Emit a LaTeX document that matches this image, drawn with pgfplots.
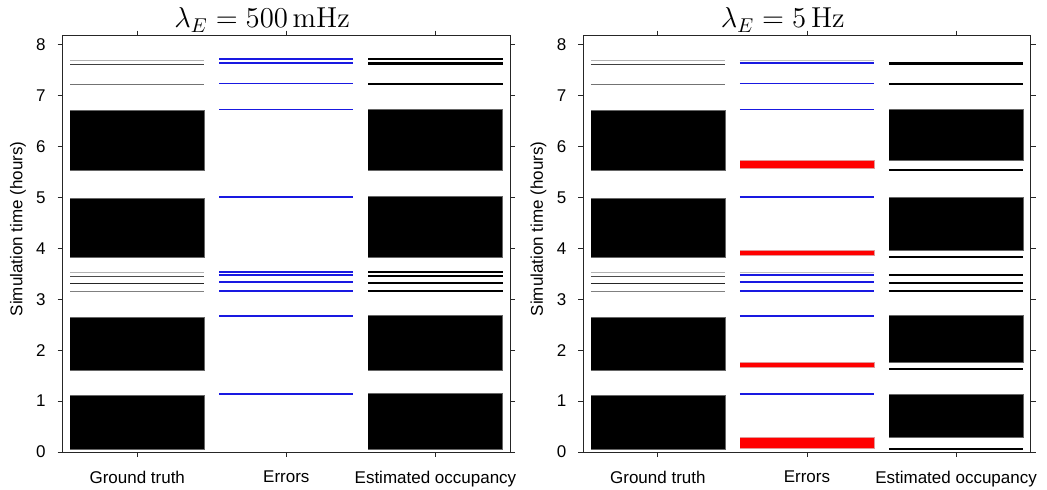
\documentclass[border=0pt]{standalone}
\usepackage{pgfplots}
\pgfplotsset{compat=1.18}
\usepackage[no-math]{fontspec}
\setmainfont{Liberation Sans}

% column x-ranges: A = Ground truth, B = Errors, C = Estimated occupancy
\newcommand{\rA}[3]{\addplot[#3] coordinates {(-0.45,#1) (0.45,#1) (0.45,#2) (-0.45,#2)};}
\newcommand{\rB}[3]{\addplot[#3] coordinates {(0.55,#1) (1.45,#1) (1.45,#2) (0.55,#2)};}
\newcommand{\rC}[3]{\addplot[#3] coordinates {(1.55,#1) (2.45,#1) (2.45,#2) (1.55,#2)};}
\newcommand{\lA}[2]{\addplot[#2] coordinates {(-0.45,#1) (0.45,#1)};}
\newcommand{\lB}[2]{\addplot[#2] coordinates {(0.55,#1) (1.45,#1)};}
\newcommand{\lC}[2]{\addplot[#2] coordinates {(1.55,#1) (2.45,#1)};}

\definecolor{errblue}{RGB}{25,25,225}

\pgfplotsset{
  gtl/.style={line width=0.5pt},
  blk/.style={fill=black, draw=black!60, line width=0.3pt},
  bl/.style={draw=errblue, line width=0.85pt},
  bll/.style={draw=black!25, line width=0.6pt},
  redblk/.style={fill=red, draw=red!70!black!40, line width=0.3pt},
  eth/.style={draw=black, line width=0.7pt},
  em/.style={draw=black, line width=1.0pt},
  ek/.style={draw=black, line width=1.5pt},
  occ/.style={
    scale only axis, width=223.65pt, height=208.15pt,
    xmin=-0.5, xmax=2.5, ymin=0, ymax=8.18,
    xtick={0,1,2}, xticklabels={Ground truth, Errors, Estimated occupancy},
    ytick={0,1,2,3,4,5,6,7,8},
    tick align=outside, tick pos=both,
    xticklabel pos=lower, yticklabel pos=left,
    major tick length=2.5pt,
    /pgf/number format/assume math mode=true,
    tick label style={font=\fontsize{8.5}{10}\selectfont},
    xticklabel style={yshift=-3.5pt},
    yticklabel style={xshift=-2.5pt},
    ylabel={Simulation time (hours)},
    ylabel style={font=\fontsize{8.5}{10}\selectfont, at={(axis description cs:-0.1,0.536)}, anchor=center},
    axis line style={black!85},
    every tick/.style={black!85, line width=0.4pt},
    title style={at={(axis description cs:0.446,1)}, anchor=base, yshift=-2pt, font=\fontsize{14}{17}\selectfont},
  }
}

\newcommand{\GTdata}{%
  \lA{7.70}{gtl, black!30}
  \lA{7.61}{gtl, black!75}
  \lA{7.22}{gtl, black!55}
  \lA{3.52}{gtl, black!30}
  \lA{3.45}{gtl, black!70}
  \lA{3.32}{gtl, black!85}
  \lA{3.15}{gtl, black!50}
  \rA{5.54}{6.71}{blk}
  \rA{3.82}{4.99}{blk}
  \rA{1.61}{2.65}{blk}
  \rA{0.05}{1.12}{blk}
}

\begin{document}
\begin{tikzpicture}
\begin{axis}[occ, at={(0pt,0pt)}, anchor=south west, title={$\lambda_E = 500\,\mathrm{mHz}$}]
  \GTdata
  % Errors
  \lB{7.72}{bl}
  \lB{7.64}{bl}
  \lB{7.24}{bl}
  \lB{6.73}{bl}
  \lB{5.01}{bl}
  \lB{3.54}{bl}
  \lB{3.48}{bl}
  \lB{3.34}{bl}
  \lB{3.17}{bl}
  \lB{2.67}{bl}
  \lB{1.14}{bl}
  % Estimated occupancy
  \lC{7.72}{eth}
  \lC{7.63}{ek}
  \lC{7.24}{em}
  \lC{3.54}{eth}
  \lC{3.46}{em}
  \lC{3.33}{em}
  \lC{3.17}{em}
  \rC{5.54}{6.73}{blk}
  \rC{3.82}{5.02}{blk}
  \rC{1.61}{2.69}{blk}
  \rC{0.05}{1.15}{blk}
\end{axis}
\begin{axis}[occ, at={(260.3pt,0pt)}, anchor=south west, title={$\lambda_E = 5\,\mathrm{Hz}$}]
  \GTdata
  % Errors
  \lB{7.70}{bll}
  \lB{7.64}{bl}
  \lB{7.24}{bl}
  \lB{6.73}{bl}
  \rB{5.58}{5.74}{redblk}
  \lB{5.01}{bl}
  \rB{3.86}{3.96}{redblk}
  \lB{3.53}{bll}
  \lB{3.48}{bl}
  \lB{3.34}{bl}
  \lB{3.17}{bl}
  \lB{2.67}{bl}
  \rB{1.66}{1.76}{redblk}
  \lB{1.14}{bl}
  \rB{0.08}{0.29}{redblk}
  % Estimated occupancy
  \lC{7.63}{ek}
  \lC{7.24}{em}
  \rC{5.74}{6.73}{blk}
  \lC{5.55}{em}
  \rC{3.97}{5.01}{blk}
  \lC{3.84}{em}
  \lC{3.47}{em}
  \lC{3.33}{em}
  \lC{3.17}{em}
  \rC{1.76}{2.69}{blk}
  \lC{1.63}{em}
  \rC{0.29}{1.14}{blk}
  \lC{0.06}{em}
\end{axis}
\pgfresetboundingbox
\path[use as bounding box] (-31.35pt,-19pt) rectangle (492.15pt,226pt);
\end{tikzpicture}
\end{document}
